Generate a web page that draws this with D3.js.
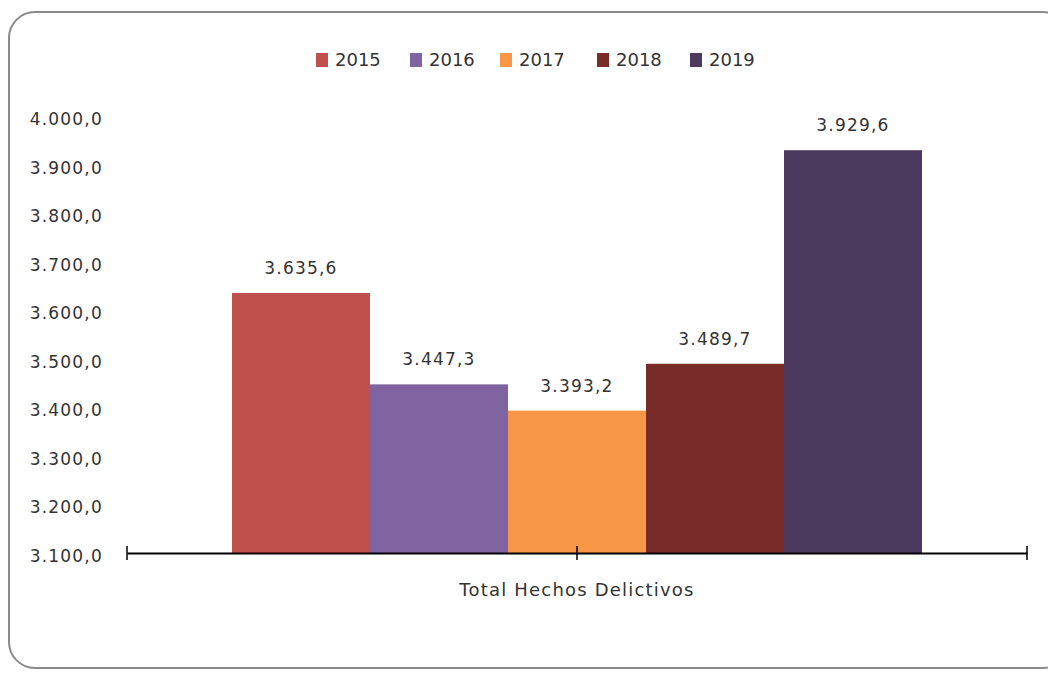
<!DOCTYPE html>
<html>
<head>
<meta charset="utf-8">
<script src="https://cdn.jsdelivr.net/npm/d3@7"></script>
<style>
  body { margin: 0; background: #fff; }
  text { font-family: "DejaVu Sans", Verdana, sans-serif; fill: #333; }
</style>
</head>
<body>
<svg></svg>
<script>
var width = 1048;
var height = 673;

// data
var category = "Total Hechos Delictivos";
var years = ["2015", "2016", "2017", "2018", "2019"];
var values = [3635.6, 3447.3, 3393.2, 3489.7, 3929.6];
var colors = ["#C0504D", "#8064A2", "#F79646", "#772C2A", "#4B3A5E"];
var yTicks = [3100, 3200, 3300, 3400, 3500, 3600, 3700, 3800, 3900, 4000];

// spanish number format: 3.635,6
var es = d3.formatLocale({decimal: ",", thousands: ".", grouping: [3], currency: ["", ""]});
var fmt = es.format(",.1f");

var svg = d3.select("svg")
    .attr("width", width)
    .attr("height", height);

// chart border
svg.append("rect")
    .attr("x", 9).attr("y", 12)
    .attr("width", 1060).attr("height", 656)
    .attr("rx", 26).attr("ry", 26)
    .attr("fill", "#fff")
    .attr("stroke", "#8a8a8a")
    .attr("stroke-width", 2);

var x0 = d3.scaleBand()
    .domain([category])
    .range([127, 1027]);

var x1 = d3.scaleBand()
    .domain(years)
    .range([232, 922]);

var yScale = d3.scaleLinear()
    .domain([3100, 4000])
    .range([553, 116]);

// tick labels (no axis line on the left)
svg.append("g")
    .selectAll("text")
    .data(yTicks)
    .enter()
    .append("text")
        .attr("x", 103)
        .attr("y", function(d) { return yScale(d) + 3; })
        .attr("dy", "0.35em")
        .attr("text-anchor", "end")
        .style("font-size", "17px")
        .style("letter-spacing", "1.2px")
        .text(function(d) { return fmt(d); });

// bars
svg.selectAll("rect.bar")
    .data(values)
    .enter()
    .append("rect")
        .attr("class", "bar")
        .attr("x", function(d, i) { return x1(years[i]); })
        .attr("y", function(d) { return yScale(d); })
        .attr("width", x1.bandwidth())
        .attr("height", function(d) { return yScale(3100) - yScale(d); })
        .attr("fill", function(d, i) { return colors[i]; });

// value labels
svg.selectAll("text.val")
    .data(values)
    .enter()
    .append("text")
        .attr("class", "val")
        .attr("x", function(d, i) { return x1(years[i]) + x1.bandwidth() / 2; })
        .attr("y", function(d) { return yScale(d) - 19; })
        .attr("text-anchor", "middle")
        .style("font-size", "17px")
        .style("letter-spacing", "1.2px")
        .text(function(d) { return fmt(d); });

// category axis
var xAxis = d3.axisBottom(x0).tickSize(0).tickFormat("");
var gx = svg.append("g")
    .attr("transform", "translate(0," + yScale(3100) + ")")
    .call(xAxis);
gx.select(".domain").attr("stroke", "#000").attr("stroke-width", 2);
var edges = [x0.range()[0], x0(category) + x0.bandwidth() / 2, x0.range()[1]];
gx.selectAll("line.edge")
    .data(edges)
    .enter()
    .append("line")
        .attr("class", "edge")
        .attr("x1", function(d) { return d; })
        .attr("x2", function(d) { return d; })
        .attr("y1", -7).attr("y2", 7)
        .attr("stroke", "#000")
        .attr("stroke-width", 1.5);

svg.append("text")
    .attr("x", x0(category) + x0.bandwidth() / 2)
    .attr("y", 596)
    .attr("text-anchor", "middle")
    .style("font-size", "18px")
    .style("letter-spacing", "1.2px")
    .text(category);

// legend
var legendX = [316, 410, 500, 597, 690];
var legend = svg.append("g")
    .selectAll("g")
    .data(years)
    .enter()
    .append("g")
        .attr("transform", function(d, i) { return "translate(" + legendX[i] + ",60)"; });
legend.append("rect")
    .attr("x", 0).attr("y", -7)
    .attr("width", 12).attr("height", 14)
    .attr("fill", function(d, i) { return colors[i]; });
legend.append("text")
    .attr("x", 19)
    .attr("dy", "0.36em")
    .style("font-size", "18px")
    .text(function(d) { return d; });
</script>
</body>
</html>
